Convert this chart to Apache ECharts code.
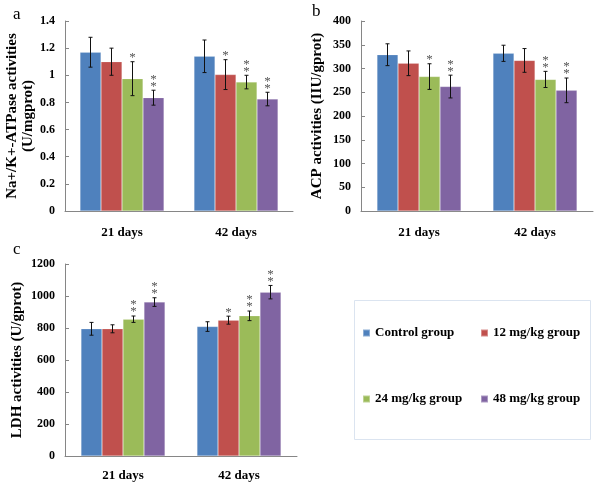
<!DOCTYPE html>
<html>
<head>
<meta charset="utf-8">
<script src="https://cdn.jsdelivr.net/npm/echarts@6/dist/echarts.min.js"></script>
<style>
html,body{margin:0;padding:0;background:#fff;}
#chart{width:600px;height:485px;}
</style>
</head>
<body>
<div id="chart"></div>
<script>
const categories = ['21 days', '42 days'];
const groupNames = ['Control group', '12 mg/kg group', '24 mg/kg group', '48 mg/kg group'];
const colors = ['#4F81BD', '#C0504D', '#9BBB59', '#8064A2'];

// rows = group, cols = category
const naKMeans = [[1.17, 1.14], [1.10, 1.005], [0.975, 0.95], [0.835, 0.825]];
const naKErrors = [[0.11, 0.12], [0.10, 0.11], [0.125, 0.05], [0.055, 0.05]];
const naKStars = [['', ''], ['', '*'], ['*', '**'], ['**', '**']];

const acpMeans = [[329, 332], [311, 317], [283, 277], [262, 254]];
const acpErrors = [[23, 17], [26, 25], [27, 17], [24, 26]];
const acpStars = [['', ''], ['', ''], ['*', '**'], ['**', '**']];

const ldhMeans = [[795, 809], [795, 849], [855, 876], [962, 1024]];
const ldhErrors = [[40, 30], [25, 25], [20, 30], [27, 42]];
const ldhStars = [['', ''], ['', '*'], ['**', '**'], ['**', '**']];

const yTicksA = {min: 0, max: 1.4, interval: 0.2};
const yTicksB = {min: 0, max: 400, interval: 50};
const yTicksC = {min: 0, max: 1200, interval: 200};

const FONT = "'Liberation Serif','Times New Roman',serif";
const AXIS_COLOR = '#868686';
const BAR_W = 21;

const chart = echarts.init(document.getElementById('chart'), null, {renderer: 'canvas'});

function makeXAxis(gi, margin) {
  return {
    type: 'category', gridIndex: gi, data: categories,
    axisLine: {lineStyle: {color: AXIS_COLOR, width: 1}},
    axisTick: {inside: true, length: 4, lineStyle: {color: AXIS_COLOR}},
    axisLabel: {color: '#000', fontFamily: FONT, fontWeight: 'bold', fontSize: 13, margin: margin},
    splitLine: {show: false}
  };
}
function makeYAxis(gi, ticks, name, nameGap) {
  return {
    type: 'value', gridIndex: gi, min: ticks.min, max: ticks.max, interval: ticks.interval,
    name: name, nameLocation: 'middle', nameGap: nameGap, nameRotate: 90,
    nameTextStyle: {color: '#000', fontFamily: FONT, fontWeight: 'bold', fontSize: 15, lineHeight: 16},
    axisLine: {show: true, lineStyle: {color: AXIS_COLOR, width: 1}},
    axisTick: {show: true, inside: true, length: 4, lineStyle: {color: AXIS_COLOR}},
    axisLabel: {
      color: '#000', fontFamily: FONT, fontWeight: 'bold', fontSize: 12, margin: 10,
      formatter: function (v) { return String(Math.round(v * 1000) / 1000); }
    },
    splitLine: {show: false}
  };
}

const series = [];
function addPanel(gi, means, errs, stars) {
  means.forEach((vals, g) => {
    series.push({
      type: 'bar', name: groupNames[g], xAxisIndex: gi, yAxisIndex: gi,
      data: vals, barWidth: BAR_W, barGap: '0%',
      itemStyle: {color: colors[g], borderColor: 'rgba(255,255,255,0.35)', borderWidth: 0.5},
      emphasis: {disabled: true}, silent: true
    });
  });
  const errData = [];
  means.forEach((vals, g) => {
    vals.forEach((v, c) => errData.push([c, v, errs[g][c], g, stars[g][c]]));
  });
  series.push({
    type: 'custom', xAxisIndex: gi, yAxisIndex: gi, silent: true, z: 10,
    data: errData,
    encode: {x: 0, y: 1},
    renderItem: function (params, api) {
      const c = api.value(0), v = api.value(1), e = api.value(2), g = api.value(3);
      const starStr = errData[params.dataIndex][4];
      const off = (g - 1.5) * BAR_W;
      const pHi = api.coord([c, v + e]);
      const pLo = api.coord([c, v - e]);
      const x = pHi[0] + off;
      const capW = 2;
      const children = [
        {type: 'line', shape: {x1: x, y1: pHi[1], x2: x, y2: pLo[1]}, style: {stroke: '#111', lineWidth: 1}},
        {type: 'line', shape: {x1: x - capW, y1: pHi[1], x2: x + capW, y2: pHi[1]}, style: {stroke: '#111', lineWidth: 1}},
        {type: 'line', shape: {x1: x - capW, y1: pLo[1], x2: x + capW, y2: pLo[1]}, style: {stroke: '#111', lineWidth: 1}}
      ];
      for (let k = 0; k < starStr.length; k++) {
        children.push({
          type: 'text',
          style: {
            text: '*', x: x, y: pHi[1] - 4 - k * 7,
            align: 'center', verticalAlign: 'middle',
            fontFamily: FONT, fontSize: 13, fill: '#555'
          }
        });
      }
      return {type: 'group', children: children};
    }
  });
}
addPanel(0, naKMeans, naKErrors, naKStars);
addPanel(1, acpMeans, acpErrors, acpStars);
addPanel(2, ldhMeans, ldhErrors, ldhStars);

const legendCommon = {
  orient: 'vertical', itemWidth: 7, itemHeight: 7, itemGap: 52, icon: 'rect',
  selectedMode: false, padding: 0,
  textStyle: {color: '#000', fontFamily: FONT, fontWeight: 'bold', fontSize: 13, lineHeight: 14}
};

chart.setOption({
  animation: false,
  backgroundColor: '#fff',
  grid: [
    {left: 65, top: 21, width: 228, height: 190},
    {left: 361, top: 21, width: 232, height: 190},
    {left: 65, top: 264, width: 232, height: 192}
  ],
  xAxis: [makeXAxis(0, 15), makeXAxis(1, 15), makeXAxis(2, 13)],
  yAxis: [
    makeYAxis(0, yTicksA, 'Na+/K+-ATPase activities\n(U/mgprot)', 28),
    makeYAxis(1, yTicksB, 'ACP activities (IIU/gprot)', 36),
    makeYAxis(2, yTicksC, 'LDH activities (U/gprot)', 40)
  ],
  legend: [
    Object.assign({data: ['Control group', '24 mg/kg group'], left: 362, top: 326}, legendCommon),
    Object.assign({data: ['12 mg/kg group', '48 mg/kg group'], left: 480, top: 326}, legendCommon)
  ],
  graphic: [
    {type: 'rect', left: 352, top: 298, shape: {width: 236, height: 139}, style: {fill: 'none', stroke: '#dbe4f0', lineWidth: 1}, z: -1},
    {type: 'text', left: 13, top: 6, style: {text: 'a', fontFamily: FONT, fontSize: 17, fill: '#000'}},
    {type: 'text', left: 312, top: 3, style: {text: 'b', fontFamily: FONT, fontSize: 17, fill: '#000'}},
    {type: 'text', left: 13, top: 241, style: {text: 'c', fontFamily: FONT, fontSize: 17, fill: '#000'}}
  ],
  series: series
});
</script>
</body>
</html>
